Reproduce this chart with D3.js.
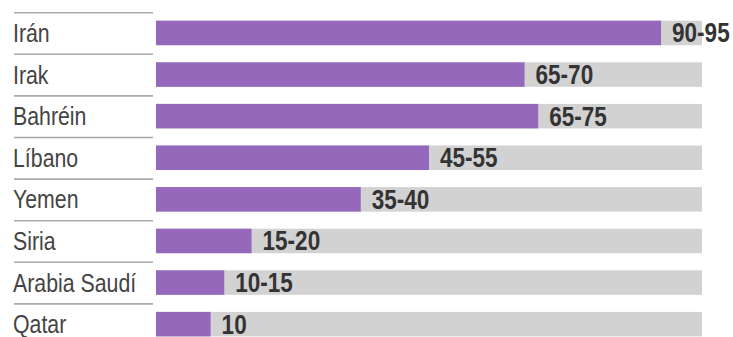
<!DOCTYPE html>
<html>
<head>
<meta charset="utf-8">
<script src="https://cdn.jsdelivr.net/npm/d3@7"></script>
<style>
  html, body { margin: 0; padding: 0; background: #fff; }
  svg { display: block; }
  .country { font-family: "Liberation Sans", Arial, sans-serif; font-size: 26px; fill: #444; }
  .value { font-family: "Liberation Sans", Arial, sans-serif; font-size: 27.5px; font-weight: bold; fill: #333; }
</style>
</head>
<body>
<script>
// Estimated ranges per country (percent)
const countries = ["Irán", "Irak", "Bahréin", "Líbano", "Yemen", "Siria", "Arabia Saudí", "Qatar"];
const lowValues = [90, 65, 65, 45, 35, 15, 10, 10];
const highValues = [95, 70, 75, 55, 40, 20, 15, 10];
const rangeLabels = ["90-95", "65-70", "65-75", "45-55", "35-40", "15-20", "10-15", "10"];
const maxValue = 100;

const width = 733, height = 337;
// condensed look: regular face squeezed horizontally
const narrow = 0.82;

const rows = countries.map((c, i) => ({
  country: c,
  low: lowValues[i],
  high: highValues[i],
  label: rangeLabels[i],
  mid: (lowValues[i] + highValues[i]) / 2
}));

const svg = d3.select("body").append("svg")
  .attr("width", width)
  .attr("height", height);

// one band per row; the separator sits at the top of each band
const y = d3.scaleBand()
  .domain(countries)
  .range([12.7, 12.7 + 41.6 * countries.length])
  .padding(0);

const x = d3.scaleLinear()
  .domain([0, maxValue])
  .range([156, 702]);

const barInset = 8;
const barHeight = 24.5;

const row = svg.selectAll("g.row")
  .data(rows)
  .join("g")
  .attr("class", "row")
  .attr("transform", d => `translate(0,${y(d.country)})`);

// separators under the country column
row.append("line")
  .attr("x1", 14).attr("x2", 153)
  .attr("y1", 0).attr("y2", 0)
  .attr("stroke", "#aaaaaa")
  .attr("stroke-width", 1.6);

// country names
row.append("text")
  .attr("class", "country")
  .attr("transform", `translate(13,${barInset + barHeight / 2 + 9}) scale(${narrow},1)`)
  .text(d => d.country);

// full-scale grey track
row.append("rect")
  .attr("x", x(0))
  .attr("y", barInset)
  .attr("width", x(maxValue) - x(0))
  .attr("height", barHeight)
  .attr("fill", "#d2d2d2");

// value bar at the midpoint of each range
row.append("rect")
  .attr("x", x(0))
  .attr("y", barInset)
  .attr("width", d => x(d.mid) - x(0))
  .attr("height", barHeight)
  .attr("fill", "#9568bc");

// range labels
row.append("text")
  .attr("class", "value")
  .attr("transform", d => `translate(${x(d.mid) + 11},${barInset + barHeight / 2 + 9.5}) scale(${narrow},1)`)
  .text(d => d.label);
</script>
</body>
</html>
